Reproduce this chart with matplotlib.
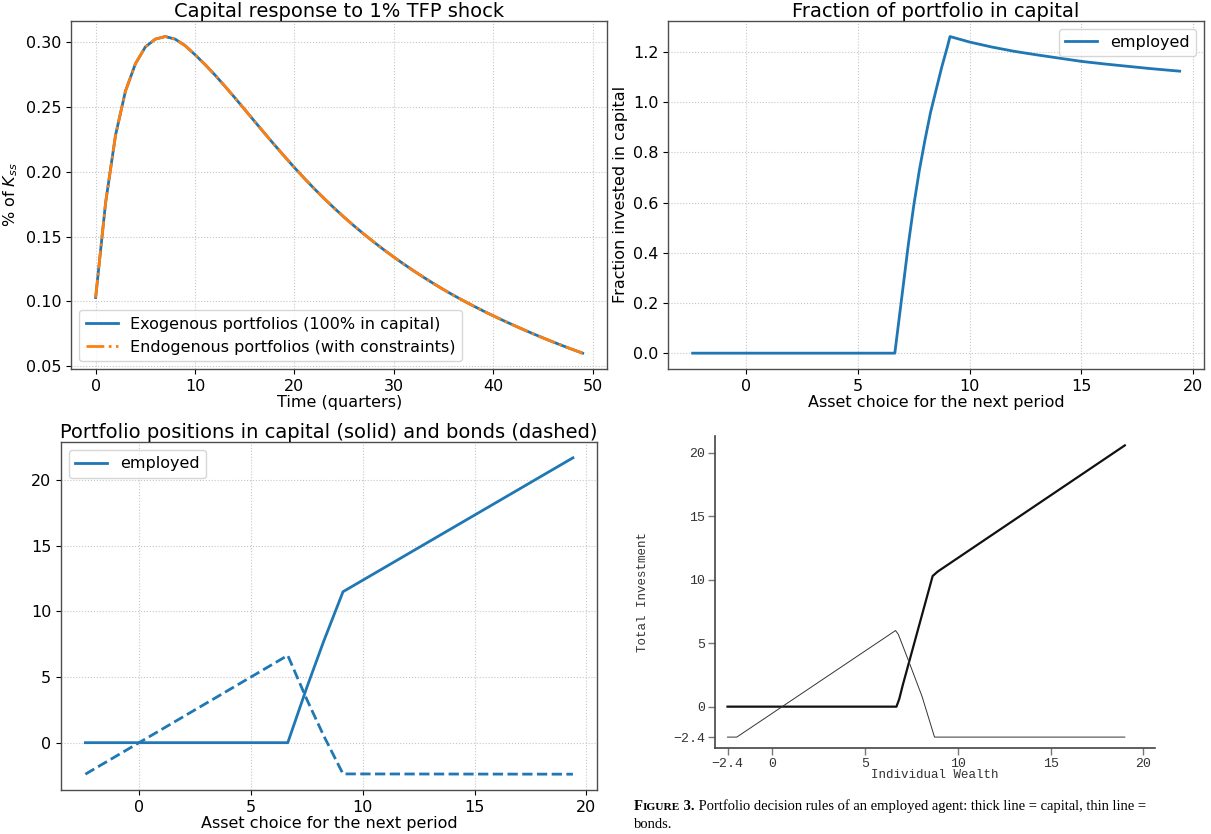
import matplotlib
matplotlib.use("Agg")
import matplotlib.pyplot as plt
from matplotlib.offsetbox import TextArea, HPacker, AnchoredOffsetbox

# ---------- DATA ----------
# capital impulse response (quarters 0..49), both portfolio cases overlap
quarters = list(range(50))
irf_exog = [0.1030, 0.1760, 0.2280, 0.2620, 0.2830, 0.2960, 0.3020, 0.3040, 0.3020, 0.2970,
            0.2900, 0.2825, 0.2744, 0.2658, 0.2569, 0.2478, 0.2386, 0.2295, 0.2205, 0.2117,
            0.2031, 0.1948, 0.1868, 0.1792, 0.1719, 0.1649, 0.1582, 0.1518, 0.1457, 0.1398,
            0.1342, 0.1288, 0.1236, 0.1186, 0.1138, 0.1092, 0.1048, 0.1006, 0.0966, 0.0927,
            0.0890, 0.0854, 0.0819, 0.0785, 0.0752, 0.0720, 0.0689, 0.0659, 0.0630, 0.0602]
irf_endog = list(irf_exog)

# fraction of portfolio in capital, employed agent
frac_x = [-2.4, 6.65, 7.0, 7.25, 7.5, 7.75, 8.0, 8.25, 8.5, 8.75, 9.0, 9.12,
          10, 11, 12, 13, 14, 15, 16, 17, 18, 19, 19.4]
frac_y = [0.0, 0.0, 0.25, 0.43, 0.59, 0.73, 0.85, 0.96, 1.05, 1.14, 1.22, 1.262,
          1.240, 1.220, 1.203, 1.189, 1.176, 1.163, 1.153, 1.144, 1.135, 1.127, 1.124]

# positions in capital and bonds
pos_x = [-2.4, 6.65, 7.5, 8.25, 9.12, 19.4]
pos_capital = [0.0, 0.0, 4.2, 7.7, 11.5, 21.7]
pos_bonds = [-2.4, 6.65, 3.3, 0.55, -2.38, -2.4]

# paper figure 3 (thick = capital, thin = bonds)
paper_cap_x = [-2.4, 6.7, 6.85, 7.04, 8.65, 8.92, 19.0]
paper_cap_y = [0.0, 0.0, 0.6, 1.7, 10.3, 10.65, 20.6]
paper_bond_x = [-2.4, -1.9, 6.65, 6.8, 7.04, 7.46, 8.08, 8.75, 19.0]
paper_bond_y = [-2.4, -2.4, 6.0, 5.7, 4.8, 3.2, 0.8, -2.4, -2.4]
paper_ticks = [-2.4, 0, 5, 10, 15, 20]
paper_ticklabels = ["\u22122.4", "0", "5", "10", "15", "20"]
# --------------------------

W, H = 1211, 834
fig = plt.figure(figsize=(W / 100, H / 100), dpi=100)

fs_tick = 11.5
fs_title = 14
blue = "#1f77b4"
orange = "#ff7f0e"


def style(ax):
    ax.grid(True, linestyle=":", linewidth=0.8, color="0.78")
    ax.tick_params(labelsize=fs_tick)
    for s in ax.spines.values():
        s.set_color("0.3")
        s.set_linewidth(1.0)


# Panel 1: capital IRF
ax1 = fig.add_axes([71.3 / W, 1 - 369 / H, 535.7 / W, 348.3 / H])
ax1.plot(quarters, irf_exog, color=blue, lw=2, label="Exogenous portfolios (100% in capital)")
ax1.plot(quarters, irf_endog, color=orange, lw=2, ls="-.", label="Endogenous portfolios (with constraints)")
ax1.set_title("Capital response to 1% TFP shock", fontsize=fs_title, pad=3)
ax1.set_xlabel("Time (quarters)", fontsize=fs_tick, labelpad=1)
ax1.set_ylabel("% of $K_{ss}$", fontsize=fs_tick)
ax1.legend(loc="lower left", fontsize=fs_tick)
style(ax1)

# Panel 2: fraction in capital
ax2 = fig.add_axes([668.3 / W, 1 - 369 / H, 535.7 / W, 348.3 / H])
ax2.plot(frac_x, frac_y, color=blue, lw=2, label="employed")
ax2.set_title("Fraction of portfolio in capital", fontsize=fs_title, pad=3)
ax2.set_xlabel("Asset choice for the next period", fontsize=fs_tick, labelpad=1)
ax2.set_ylabel("Fraction invested in capital", fontsize=fs_tick)
ax2.legend(loc="upper right", fontsize=fs_tick)
style(ax2)

# Panel 3: positions
ax3 = fig.add_axes([61 / W, 1 - 790 / H, 536.3 / W, 348 / H])
ax3.plot(pos_x, pos_capital, color=blue, lw=2, label="employed")
ax3.plot(pos_x, pos_bonds, color=blue, lw=2, ls="--")
ax3.set_title("Portfolio positions in capital (solid) and bonds (dashed)", fontsize=fs_title, pad=3)
ax3.set_xlabel("Asset choice for the next period", fontsize=fs_tick, labelpad=1)
ax3.legend(loc="upper left", fontsize=fs_tick)
style(ax3)

# Panel 4: reproduction of the paper's figure
mono = "Liberation Mono"
ax4 = fig.add_axes([714.7 / W, 1 - 748 / H, 440 / W, 312 / H])
ax4.plot(paper_cap_x, paper_cap_y, color="#111111", lw=1.6)
ax4.plot(paper_bond_x, paper_bond_y, color="#333333", lw=0.7)
ax4.set_xlim(-3.09, 20.61)
ax4.set_ylim(-3.26, 21.34)
ax4.set_xticks(paper_ticks)
ax4.set_yticks(paper_ticks)
ax4.set_xticklabels(paper_ticklabels, family=mono, fontsize=9.5, color="#333333")
ax4.set_yticklabels(paper_ticklabels, family=mono, fontsize=9.5, color="#333333")
ax4.tick_params(length=5, width=1, color="#777777", pad=2)
for side in ["top", "right"]:
    ax4.spines[side].set_visible(False)
for side in ["left", "bottom"]:
    ax4.spines[side].set_color("#444444")
    ax4.spines[side].set_linewidth(1.2)
ax4.set_xlabel("Individual Wealth", family=mono, fontsize=9, color="#333333", va="center")
ax4.set_ylabel("Total Investment", family=mono, fontsize=9, color="#333333", va="center")
ax4.xaxis.set_label_coords(0.5, (748 - 775.5) / 312)
ax4.yaxis.set_label_coords((643 - 714.7) / 440, 0.5)

# caption with small caps "FIGURE"
serif = "Liberation Serif"
cap_fs = 10.5
parts = [
    TextArea("F", textprops=dict(family=serif, weight="bold", size=cap_fs)),
    TextArea("IGURE", textprops=dict(family=serif, weight="bold", size=cap_fs * 0.78)),
    TextArea(" 3.", textprops=dict(family=serif, weight="bold", size=cap_fs)),
    TextArea(" Portfolio decision rules of an employed agent: thick line = capital, thin line =",
             textprops=dict(family=serif, size=cap_fs)),
]
line1 = HPacker(children=parts, align="baseline", pad=0, sep=0)
box = AnchoredOffsetbox(loc="center left", child=line1, pad=0, borderpad=0, frameon=False,
                        bbox_to_anchor=(634 / W, 1 - 806 / H), bbox_transform=fig.transFigure)
fig.add_artist(box)
fig.text(634 / W, 1 - 824.5 / H, "bonds.", family=serif, fontsize=cap_fs, va="center", ha="left")

fig.savefig("out.png", dpi=100)
print("[✓] Saved out.png")
